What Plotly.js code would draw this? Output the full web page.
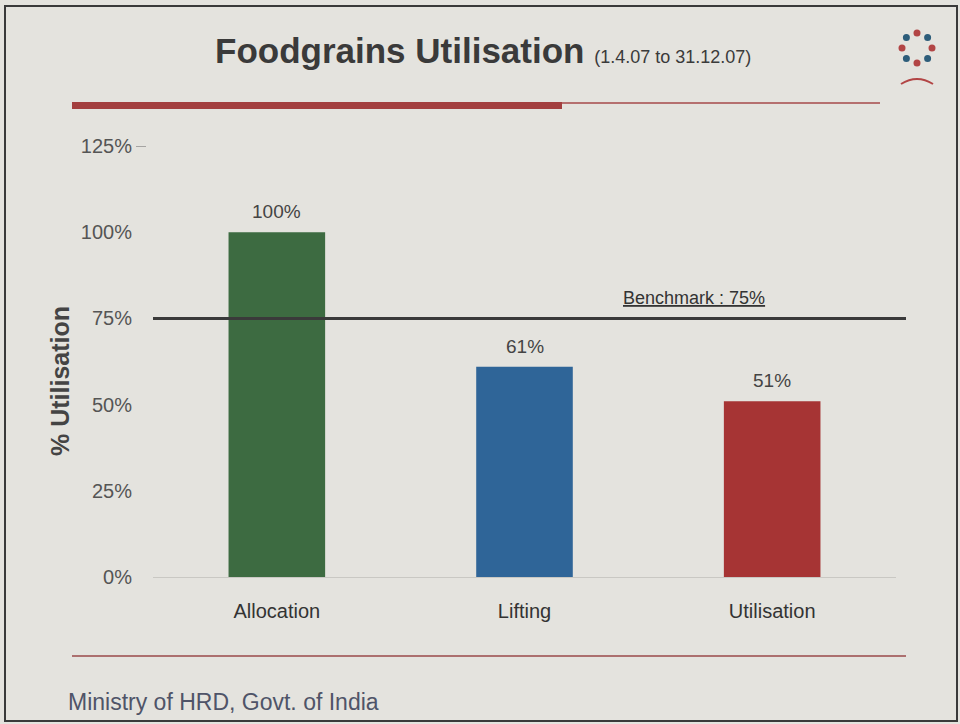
<!DOCTYPE html>
<html>
<head>
<meta charset="utf-8">
<script src="https://cdn.plot.ly/plotly-3.0.1.min.js"></script>
<style>html,body{margin:0;padding:0;background:#e4e3de;}#chart{width:960px;height:724px;}</style>
</head>
<body>
<div id="chart"></div>
<script>
const categories = ["Allocation", "Lifting", "Utilisation"];
const values = [100, 61, 51];
const barColors = ["#3d6b41", "#2f6598", "#a63434"];
const benchmark = 75;
const yTicks = [0, 25, 50, 75, 100, 125];
const yTickLabels = ["0%", "25%", "50%", "75%", "100%", "125%"];

const NARROW = "Liberation Sans Narrow, Arial Narrow, Liberation Sans, sans-serif";

// pixel -> paper helpers for decoration (plot area: x 153..896, y 146..577)
const px = p => (p - 153) / 743;
const py = p => (577 - p) / 431;

const trace = {
  type: "bar",
  x: categories,
  y: values,
  marker: { color: barColors, line: { width: 0 } },
  width: 0.39,
  hoverinfo: "skip"
};

const valueLabels = categories.map((c, i) => ({
  xref: "x", yref: "y", x: c, y: values[i], yshift: 8,
  xanchor: "center", yanchor: "bottom", showarrow: false,
  text: values[i] + "%",
  font: { family: NARROW, size: 19, color: "#444" }
}));

// decorative logo ring
const logoShapes = [];
for (let i = 0; i < 8; i++) {
  const a = i * Math.PI / 4;
  const cx = 917 + 15 * Math.cos(a), cy = 48 + 15 * Math.sin(a);
  logoShapes.push({ type: "circle", xref: "paper", yref: "paper",
    x0: px(cx - 3.5), x1: px(cx + 3.5), y0: py(cy + 3.5), y1: py(cy - 3.5),
    fillcolor: i % 2 ? "#2d5d7a" : "#b24545", line: { width: 0 } });
}

const layout = {
  width: 960, height: 724,
  paper_bgcolor: "#e4e3de",
  plot_bgcolor: "rgba(0,0,0,0)",
  margin: { l: 153, r: 64, t: 146, b: 147 },
  showlegend: false,
  xaxis: {
    type: "category",
    showline: false, showgrid: false, zeroline: false,
    ticks: "",
    ticklabelstandoff: 20,
    tickfont: { family: NARROW, size: 20, color: "#333" }
  },
  yaxis: {
    range: [0, 125],
    tickvals: yTicks,
    ticktext: yTickLabels,
    showline: false, showgrid: false,
    zeroline: true, zerolinecolor: "#c9c8c3", zerolinewidth: 1,
    ticks: "",
    ticklabelstandoff: 20,
    tickfont: { family: NARROW, size: 20, color: "#555" }
  },
  shapes: [
    // page frame
    { type: "rect", xref: "paper", yref: "paper", x0: px(5), x1: px(957), y0: py(721), y1: py(6),
      line: { color: "#3a3a3a", width: 2 }, fillcolor: "rgba(0,0,0,0)", layer: "below" },
    // title rule (thick + thin)
    { type: "rect", xref: "paper", yref: "paper", x0: px(72), x1: px(562), y0: py(109), y1: py(102),
      fillcolor: "#a33f3f", line: { width: 0 } },
    { type: "line", xref: "paper", yref: "paper", x0: px(562), x1: px(880), y0: py(103), y1: py(103),
      line: { color: "#a64a4a", width: 1.5 } },
    // footer rule
    { type: "line", xref: "paper", yref: "paper", x0: px(72), x1: px(906), y0: py(656), y1: py(656),
      line: { color: "#9a4a4a", width: 1.5 } },
    // benchmark line
    { type: "line", xref: "paper", yref: "y", x0: 0, x1: px(906), y0: benchmark, y1: benchmark,
      line: { color: "#3a3a3a", width: 3 }, layer: "above" },
    // 125% tick dash
    { type: "line", xref: "paper", yref: "y", x0: px(136), x1: px(146), y0: 125, y1: 125,
      line: { color: "#666", width: 1 } },
    // logo book arc
    { type: "path", xref: "paper", yref: "paper",
      path: `M ${px(901)} ${py(84)} Q ${px(917)} ${py(74)} ${px(933)} ${py(84)}`,
      line: { color: "#b24545", width: 2 } },
    ...logoShapes
  ],
  annotations: [
    { xref: "paper", yref: "paper", x: px(483), y: py(50), xanchor: "center", yanchor: "middle",
      showarrow: false,
      text: "<b>Foodgrains Utilisation</b> <span style='font-size:18px'>(1.4.07 to 31.12.07)</span>",
      font: { family: NARROW, size: 35, color: "#3a3a3a" } },
    { xref: "paper", yref: "y", x: px(694), y: benchmark, yshift: 8, xanchor: "center", yanchor: "bottom",
      showarrow: false, text: "<u>Benchmark : 75%</u>",
      font: { family: NARROW, size: 18, color: "#333" } },
    { xref: "paper", yref: "paper", x: px(60), y: py(381), xanchor: "center", yanchor: "middle",
      showarrow: false, textangle: -90, text: "<b>% Utilisation</b>",
      font: { family: NARROW, size: 25, color: "#444" } },
    { xref: "paper", yref: "paper", x: px(66), y: py(702), xanchor: "left", yanchor: "middle",
      showarrow: false, text: "Ministry of HRD, Govt. of India",
      font: { family: "Liberation Sans, Arial, sans-serif", size: 23, color: "#4f5468" } },
    ...valueLabels
  ]
};

Plotly.newPlot("chart", [trace], layout, { displayModeBar: false, staticPlot: true });
</script>
</body>
</html>
